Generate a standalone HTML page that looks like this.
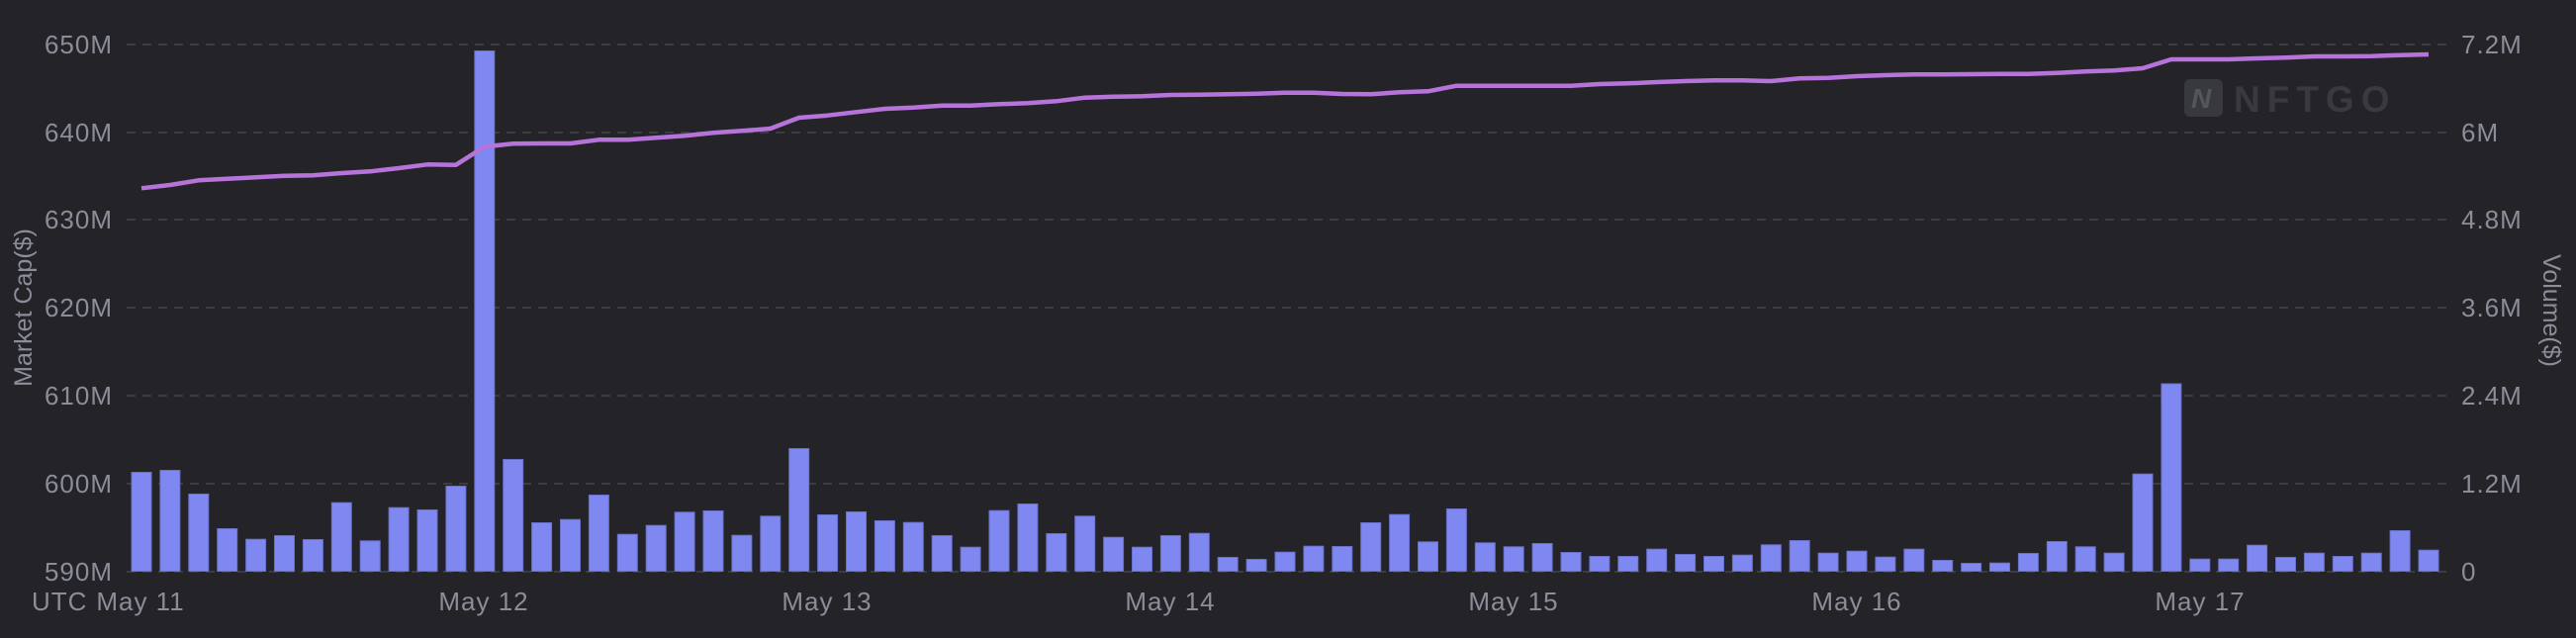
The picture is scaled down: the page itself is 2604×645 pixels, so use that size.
<!DOCTYPE html>
<html><head><meta charset="utf-8"><style>
html,body{margin:0;padding:0;background:#232328;}
svg{display:block;}
text{font-family:"Liberation Sans",sans-serif;fill:#8b8d98;}
</style></head><body>
<svg id="c" width="2604" height="645" viewBox="0 0 2604 645" xmlns="http://www.w3.org/2000/svg">
<rect width="2604" height="645" fill="#232328"/>
<g id="grid" stroke="#3b3c42" stroke-width="2" stroke-dasharray="9,7"></g>
<g id="wm">
<rect x="2208" y="80" width="39" height="38" rx="6" fill="#38393e"/>
<text x="2215" y="109" style="font-size:28px;font-style:italic;font-weight:bold;fill:#55565c">N</text>
<text x="2258" y="113" style="font-size:37px;font-weight:bold;fill:#393a40;letter-spacing:7px">NFTGO</text>
</g>
<g id="bars" fill="#7f87f1" stroke="#6a70c8" stroke-width="1"></g>
<polyline id="line" fill="none" stroke="#b673da" stroke-width="4.5" stroke-linejoin="round"/>
<g id="labels" style="font-size:26px;letter-spacing:1px"></g>
<text x="32" y="617" style="font-size:26px;letter-spacing:1px">UTC</text>
<text transform="translate(32,311) rotate(-90)" text-anchor="middle" style="font-size:25px">Market Cap($)</text>
<text transform="translate(2571,314) rotate(90)" text-anchor="middle" style="font-size:25px">Volume($)</text>
</svg>
<script>
var NS="http://www.w3.org/2000/svg";
function el(t,a,p,txt){var e=document.createElementNS(NS,t);for(var k in a)e.setAttribute(k,a[k]);if(txt!=null)e.textContent=txt;document.getElementById(p).appendChild(e);return e;}
var gy=[45,134,222,311,400,489,578];
var L=["650M","640M","630M","620M","610M","600M","590M"];
var R=["7.2M","6M","4.8M","3.6M","2.4M","1.2M","0"];
gy.forEach(function(y,i){
 el("line",{x1:128,x2:2475,y1:y,y2:y},"grid");
 el("text",{x:114,y:y+9,"text-anchor":"end"},"labels",L[i]);
 el("text",{x:2488,y:y+9},"labels",R[i]);
});
var days=["May 11","May 12","May 13","May 14","May 15","May 16","May 17"];
days.forEach(function(d,i){el("text",{x:142+i*347,y:617,"text-anchor":"middle"},"labels",d);});
var tops=[112,106,178,283,315,304,316,204,320,219,226,154,null,73,265,255,181,300,273,233,229,303,245,40,241,232,259,
264,304,339,228,208,298,245,309,339,304,297,370,376,354,336,337,265,240,323,223,326,338,328,355,367,367,345,
361,367,363,332,319,357,351,369,345,379,388,387,358,322,338,357,117,null,375,375,333,370,357,367,357,289,348];
var base=577.5;
for(var i=0;i<tops.length;i++){
 var h;
 if(i==12)h=base-51.5; else if(i==71)h=base-388; else h=(412-tops[i])/3;
 var x=133+28.9*i;
 el("rect",{x:x.toFixed(1),y:(base-h).toFixed(1),width:20,height:h.toFixed(1)},"bars");
}
var a=[391,381,367,362,358,353,352,345,340,330,319,320,265,256,255,255,244,244,238,232,223,217,210,177,170,160,150,146,140,140,136,133,127,116,113,112,108,107,106,104];
var b=[161,161,165,166,160,157,140,140,140,140,140,135,133,129,126,124,124,126,118,116,111,108,106,106,105,104,104,101,97,94,87,60,60,60,57,55,51,51,50,47,45];
var pts=[];
a.forEach(function(v,i){pts.push((143+28.9*i).toFixed(1)+","+(60+v/3).toFixed(1));});
b.forEach(function(v,j){var i=40+j;pts.push((143+28.9*i).toFixed(1)+","+(40+v/3).toFixed(1));});
document.getElementById("line").setAttribute("points",pts.join(" "));
</script>
</body></html>
